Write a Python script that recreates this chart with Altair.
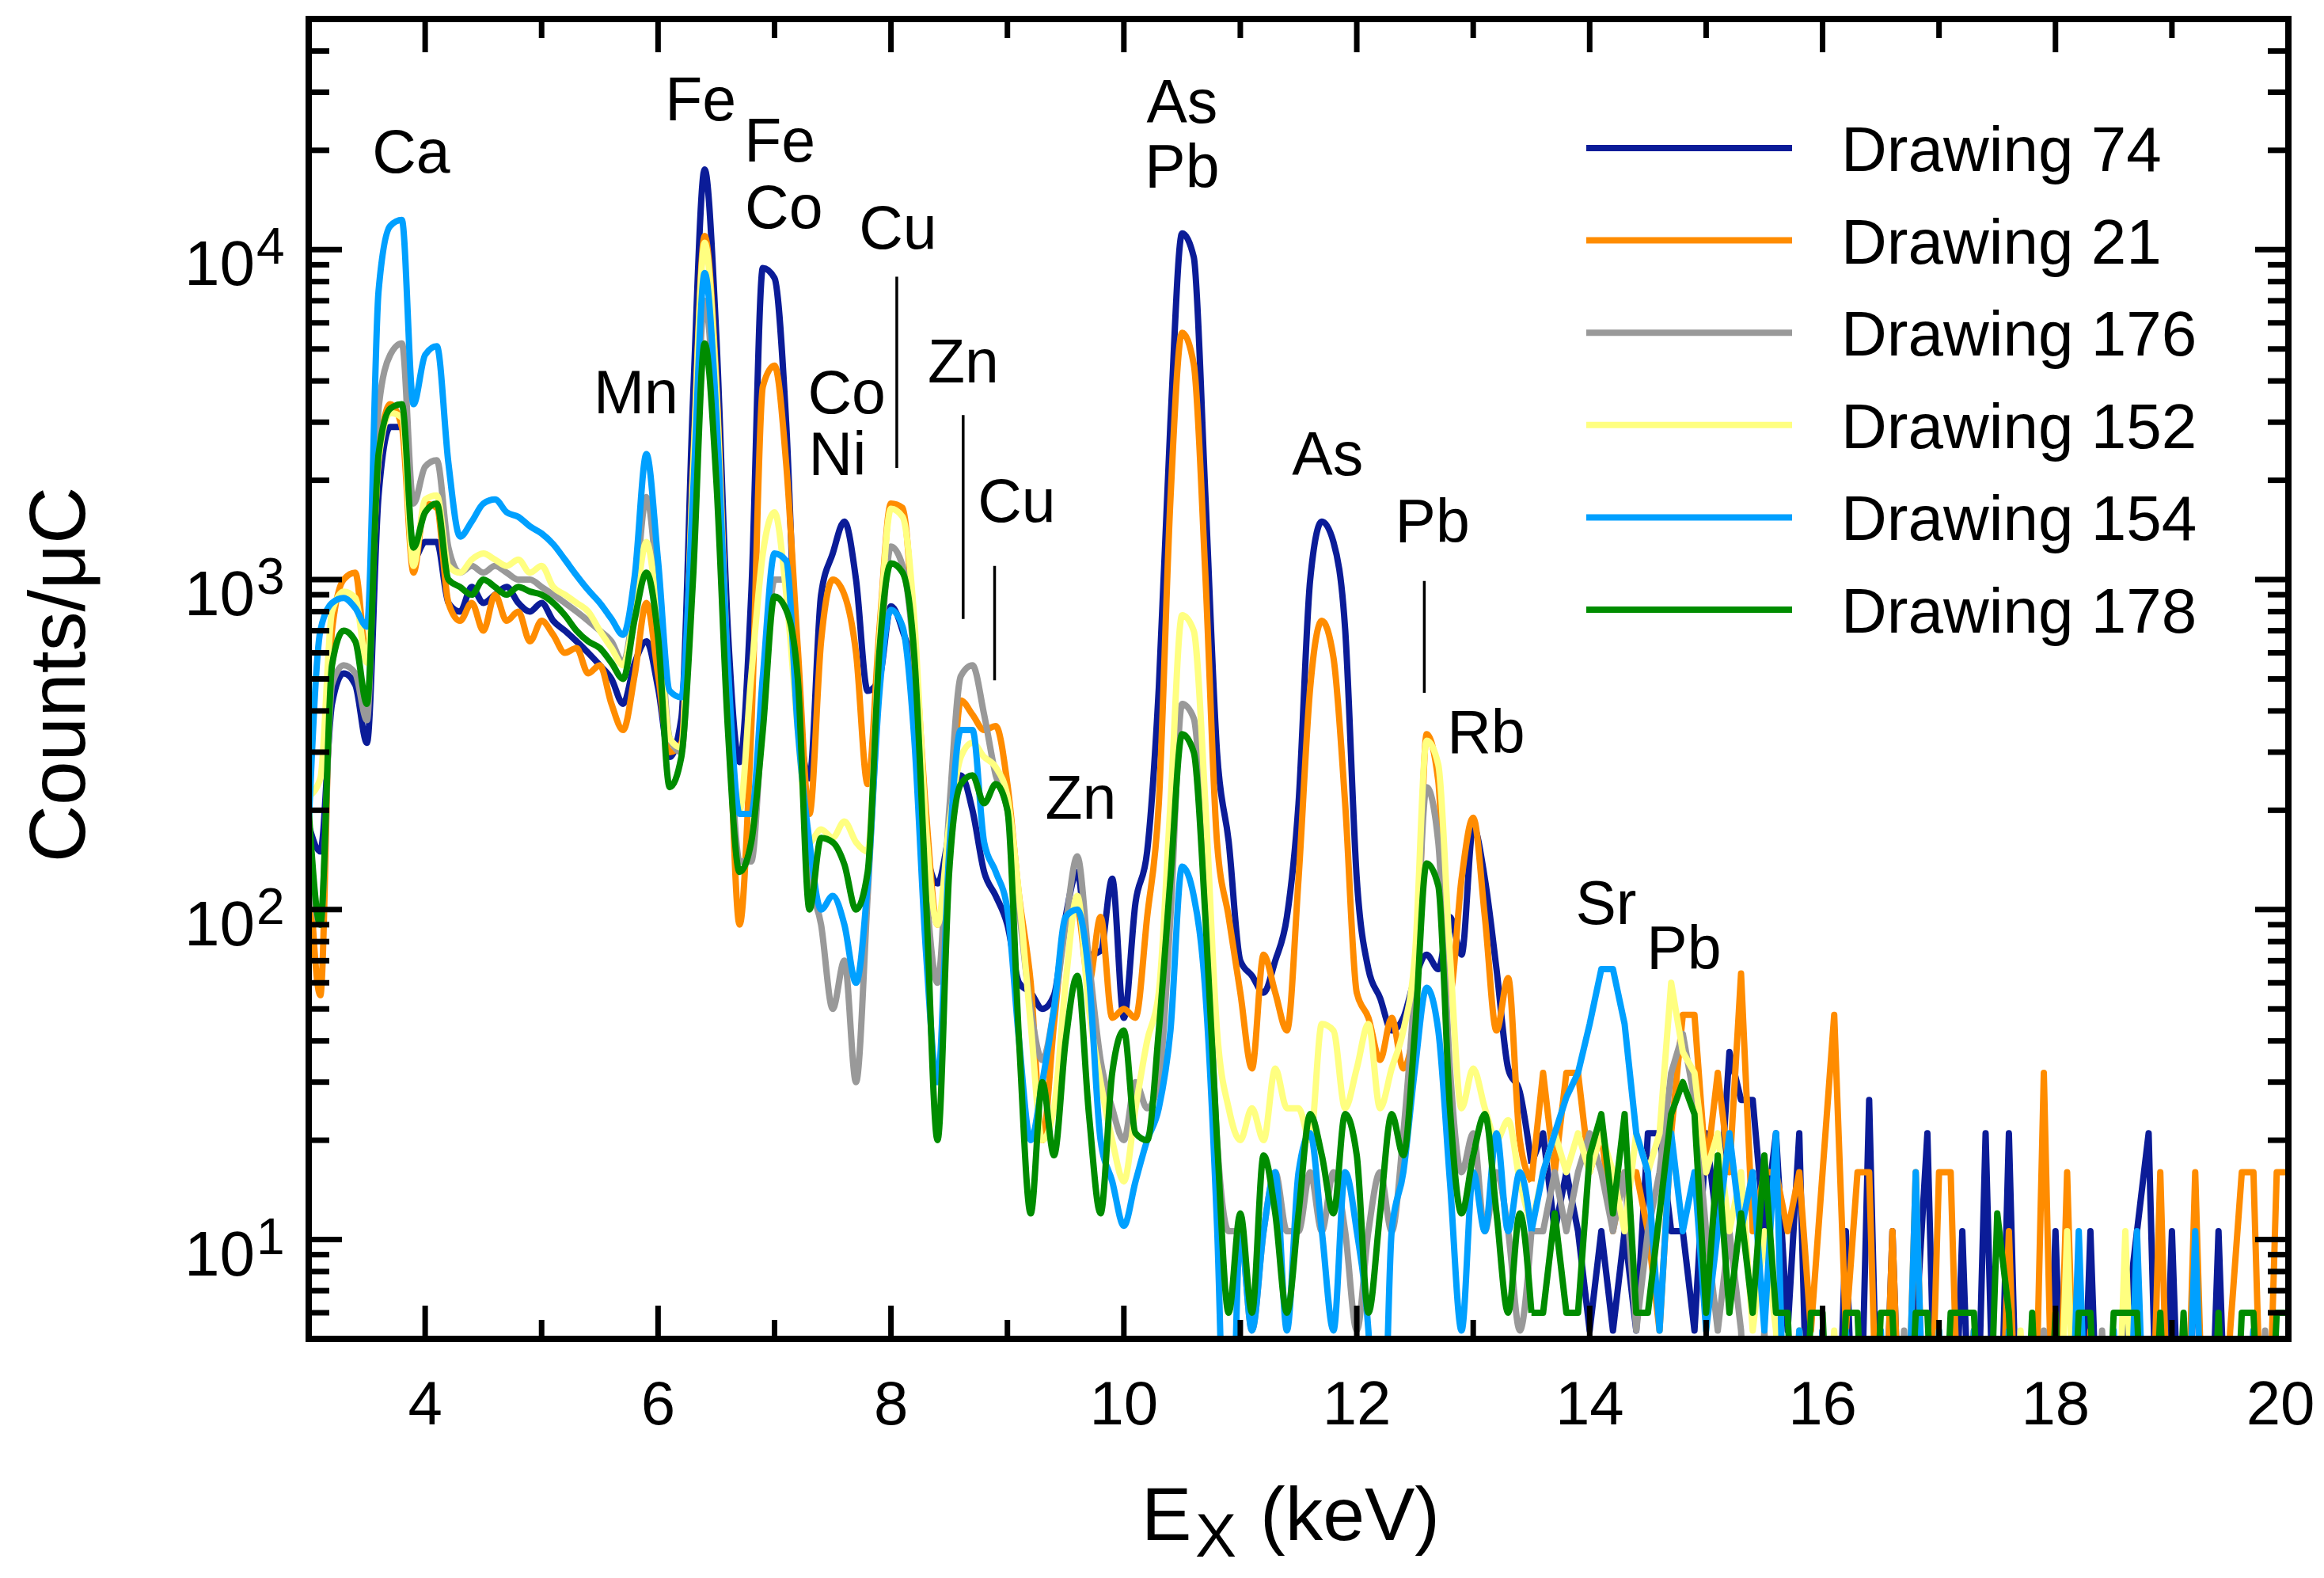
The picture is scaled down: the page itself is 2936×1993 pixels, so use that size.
import altair as alt
import pandas as pd

# counts/uC, one value every 0.1 keV from 3.0 to 20.0 keV
# (a value of 1 means an empty channel, drawn below the bottom of the frame)
d74 = [
    180, 150, 420, 520, 480, 320, 1800, 2900, 2900, 1150,      # 3.x
    1300, 1300, 850, 800, 950, 850, 900, 950, 850, 800,        # 4.x
    850, 750, 700, 650, 600, 550, 500, 420, 560, 650,          # 5.x
    470, 290, 380, 3500, 17500, 5500, 700, 280, 900, 8800,     # 6.x
    8200, 3000, 450, 250, 900, 1200, 1500, 1000, 460, 500,     # 7.x
    830, 700, 490, 155, 120, 170, 255, 200, 130, 110,          # 8.x
    90, 60, 56, 50, 55, 95, 130, 73, 75, 124,                  # 9.x
    47, 105, 150, 470, 3000, 11200, 9500, 1800, 300, 161,      # 10.x
    70, 63, 56, 70, 95, 210, 1000, 1500, 1300, 710,            # 11.x
    124, 66, 54, 43, 47, 62, 73, 66, 95, 73,                   # 12.x
    178, 124, 66, 33, 28, 17, 21, 10.6, 16, 10.6,              # 13.x
    5.3, 10.6, 5.3, 10.6, 5.3, 21, 21, 10.6, 10.6, 5.3,        # 14.x
    21, 10.6, 37, 26.5, 26.5, 10.6, 21, 5.3, 21, 1,            # 15.x
    5.3, 1, 10.6, 1, 26.5, 1, 10.6, 1, 5.3, 21,                # 16.x
    1, 1, 10.6, 1, 21, 1, 21, 1, 5.3, 1,                       # 17.x
    10.6, 1, 1, 10.6, 1, 1, 5.3, 10.6, 21, 1,                  # 18.x
    10.6, 1, 10.6, 1, 10.6, 1, 1, 5.3, 1, 1,                   # 19.x
    1,                                                         # 20.0
]
d21 = [
    150, 55, 700, 1000, 1050, 570, 2300, 3400, 2900, 1050,
    1700, 1650, 850, 750, 850, 700, 900, 750, 800, 650,
    750, 680, 600, 620, 520, 550, 420, 350, 515, 850,
    515, 300, 320, 2200, 11000, 4000, 500, 90, 350, 3850,
    4450, 2250, 620, 195, 650, 1000, 900, 600, 240, 700,
    1700, 1650, 670, 200, 90, 160, 430, 390, 350, 360,
    240, 110, 60, 20, 45, 90, 100, 60, 95, 47,
    50, 47, 95, 210, 1750, 5600, 4500, 1030, 160, 95,
    56, 33, 73, 56, 43, 124, 470, 750, 580, 210,
    56, 47, 35, 47, 33, 47, 340, 245, 56, 124,
    190, 95, 43, 62, 20, 15, 32, 16, 32, 32,
    16, 21, 10.6, 16, 16, 10.6, 5.3, 21, 48, 48,
    16, 32, 16, 64, 10.6, 16, 16, 10.6, 16, 5.3,
    16, 48, 5.3, 16, 16, 1, 10.6, 1, 16, 1,
    16, 16, 1, 5.3, 1, 1, 10.6, 1, 1, 32,
    1, 16, 1, 5.3, 1, 1, 1, 5.3, 1, 16,
    1, 1, 16, 1, 1, 5.3, 16, 16, 1, 16,
    16,
]
d176 = [
    150, 90, 480, 550, 520, 375, 3300, 4800, 5200, 1700,
    2200, 2300, 1250, 1050, 1100, 1050, 1100, 1050, 1000, 1000,
    950, 900, 850, 800, 750, 700, 650, 560, 880, 1780,
    900, 330, 300, 1400, 7000, 2600, 450, 140, 140, 400,
    1000, 1000, 380, 130, 90, 50, 70, 30, 110, 500,
    1260, 1100, 560, 120, 60, 200, 510, 550, 390, 255,
    200, 100, 50, 35, 50, 90, 145, 70, 35, 25,
    20, 30, 25, 30, 95, 420, 380, 124, 20, 10.6,
    10.6, 5.3, 10.6, 16, 10.6, 10.6, 16, 10.6, 16, 10.6,
    5.3, 10.6, 16, 10.6, 21, 60, 235, 160, 33, 16,
    21, 10.6, 16, 10.6, 5.3, 10.6, 10.6, 16, 10.6, 16,
    21, 16, 10.6, 16, 5.3, 10.6, 16, 32, 42, 26.5,
    10.6, 5.3, 10.6, 5.3, 1, 5.3, 1, 1, 5.3, 1,
    1, 1, 5.3, 1, 1, 1, 1, 5.3, 1, 1,
    1, 1, 1, 5.3, 1, 1, 1, 1, 1, 5.3,
    1, 1, 1, 1, 5.3, 1, 1, 1, 1, 1,
    1, 5.3, 1, 1, 1, 1, 1, 1, 5.3, 1,
    1,
]
d152 = [
    220, 250, 800, 920, 880, 560, 2300, 3200, 3100, 1100,
    1750, 1800, 1100, 1050, 1150, 1200, 1150, 1100, 1150, 1050,
    1100, 950, 900, 850, 800, 700, 620, 550, 810, 1300,
    760, 330, 310, 2100, 10500, 3800, 500, 200, 510, 1200,
    1600, 910, 350, 160, 175, 165, 185, 160, 150, 650,
    1640, 1550, 760, 180, 90, 180, 290, 320, 290, 270,
    220, 110, 45, 20, 25, 60, 110, 50, 30, 20,
    15, 25, 40, 56, 210, 780, 700, 210, 43, 25,
    20, 25, 20, 33, 25, 25, 20, 45, 43, 25,
    33, 45, 25, 33, 43, 73, 325, 275, 73, 25,
    33, 25, 20, 23, 15, 11, 16, 21, 16, 21,
    16, 21, 16, 10.6, 21, 16, 21, 60, 37, 32,
    16, 21, 10.6, 16, 5.3, 10.6, 5.3, 1, 5.3, 1,
    1, 5.3, 1, 1, 1, 5.3, 1, 1, 1, 1,
    5.3, 1, 1, 1, 1, 1, 1, 5.3, 1, 1,
    1, 10.6, 1, 1, 1, 1, 10.6, 1, 1, 1,
    1, 1, 1, 1, 5.3, 1, 1, 1, 1, 1,
    1,
]
d154 = [
    180, 700, 850, 880, 820, 720, 7500, 11800, 12300, 3400,
    4800, 5100, 2250, 1350, 1500, 1700, 1750, 1600, 1550, 1450,
    1380, 1280, 1150, 1030, 930, 850, 760, 680, 1030, 2400,
    1140, 460, 440, 1800, 8500, 3200, 550, 195, 195, 510,
    1200, 1140, 350, 160, 100, 110, 90, 60, 120, 450,
    810, 720, 330, 75, 30, 150, 350, 350, 160, 130,
    100, 40, 20, 30, 50, 95, 100, 63, 20, 15,
    11, 15, 20, 25, 43, 135, 110, 56, 11, 1,
    10.6, 5.3, 10.6, 16, 5.3, 16, 21, 10.6, 5.3, 16,
    10.6, 5.3, 1, 10.6, 16, 33, 58, 43, 15, 5.3,
    16, 10.6, 21, 10.6, 16, 10.6, 16, 21, 27, 32,
    45, 66, 66, 45, 21, 16, 5.3, 21, 10.6, 16,
    5.3, 10.6, 21, 10.6, 16, 5.3, 21, 1, 5.3, 1,
    5.3, 1, 5.3, 1, 1, 5.3, 1, 1, 16, 1,
    5.3, 1, 1, 5.3, 1, 1, 5.3, 1, 1, 1,
    5.3, 1, 10.6, 1, 1, 5.3, 1, 10.6, 1, 5.3,
    1, 1, 10.6, 1, 5.3, 1, 1, 5.3, 1, 1,
    1,
]
d178 = [
    200, 90, 550, 700, 650, 420, 2400, 3300, 3400, 1250,
    1600, 1700, 1000, 950, 900, 1000, 950, 900, 950, 920,
    900, 850, 780, 700, 650, 620, 560, 500, 760, 1050,
    670, 235, 290, 1000, 5200, 2000, 350, 130, 160, 350,
    890, 810, 500, 100, 165, 160, 137, 100, 130, 600,
    1120, 1050, 590, 110, 20, 130, 240, 255, 210, 240,
    200, 40, 12, 30, 18, 40, 63, 24, 12, 32,
    43, 21, 20, 43, 124, 340, 300, 95, 20, 6,
    12, 6, 18, 12, 6, 12, 24, 18, 12, 24,
    18, 6, 12, 24, 18, 43, 138, 118, 25, 12,
    18, 24, 12, 6, 12, 6, 6, 12, 6, 6,
    18, 24, 12, 24, 6, 6, 12, 24, 30, 24,
    6, 18, 6, 12, 6, 18, 6, 6, 1, 6,
    6, 1, 6, 6, 1, 6, 6, 1, 6, 6,
    1, 6, 6, 6, 1, 12, 6, 1, 6, 1,
    6, 1, 6, 6, 1, 6, 6, 6, 1, 6,
    1, 6, 1, 1, 6, 1, 6, 6, 1, 6,
    6,
]

names = ["Drawing 74", "Drawing 21", "Drawing 176", "Drawing 152", "Drawing 154", "Drawing 178"]
colors = ["#0b1c98", "#ff8c00", "#999999", "#ffff80", "#00a0ff", "#008c00"]
spectra = [d74, d21, d176, d152, d154, d178]

# element labels (energy in keV, counts at text baseline)
label_text = ["Ca", "Fe", "Fe", "Co", "Cu", "Mn", "Co", "Ni", "Zn", "Cu",
              "As", "Pb", "As", "Pb", "Rb", "Zn", "Sr", "Pb"]
label_e = [3.88, 6.365, 7.045, 7.08, 8.06, 5.81, 7.62, 7.54, 8.62, 9.08,
           10.5, 10.5, 11.75, 12.65, 13.11, 9.63, 14.14, 14.81]
label_v = [17100, 24700, 18500, 11600, 10080, 3200, 3200, 2070, 3960, 1500,
           24300, 15400, 2070, 1300, 299, 189, 90.6, 66]

# thin marker lines under some labels
lead_e = [8.05, 8.62, 8.89, 12.58]
lead_top = [8280, 3150, 1100, 990]
lead_bot = [2180, 760, 495, 454]

x_major = [4, 6, 8, 10, 12, 14, 16, 18]
x_minor = [5, 7, 9, 11, 13, 15, 17, 19]
x_labels = [4, 6, 8, 10, 12, 14, 16, 18]
x_last = [20]
y_major = [10, 100, 1000, 10000]
y_exp = ["1", "2", "3", "4"]
y_minor = [6, 7, 8, 9, 20, 30, 40, 50, 60, 70, 80, 90,
           200, 300, 400, 500, 600, 700, 800, 900,
           2000, 3000, 4000, 5000, 6000, 7000, 8000, 9000,
           20000, 30000, 40000]

for s in spectra:
    assert len(s) == 171, len(s)
energy = [round(3 + 0.1 * i, 1) for i in range(171)]

W, H = 2501, 1667
FONT = "Liberation Sans"
xs = alt.Scale(domain=[3, 20], nice=False, zero=False)
ys = alt.Scale(type="log", domain=[5, 50000], nice=False)
X = lambda f: alt.X(f, scale=xs, axis=None)
Y = lambda f: alt.Y(f, scale=ys, axis=None)

layers = []
for name, col, vals in zip(names, colors, spectra):
    df = pd.DataFrame({"energy": energy, "counts": vals})
    # peaks up to 13.5 keV drawn smooth, the sparse tail drawn straight
    layers.append(alt.Chart(df.iloc[:106]).mark_line(
        clip=True, strokeWidth=8, strokeJoin="round", color=col, interpolate="monotone"
    ).encode(x=X("energy:Q"), y=Y("counts:Q")))
    layers.append(alt.Chart(df.iloc[105:]).mark_line(
        clip=True, strokeWidth=8, strokeJoin="round", color=col
    ).encode(x=X("energy:Q"), y=Y("counts:Q")))


def xticks(vals, length):
    base = alt.Chart(pd.DataFrame({"v": vals})).mark_rule(color="black", strokeWidth=7)
    return [
        base.encode(x=X("v:Q"), y=alt.value(H), y2=alt.value(H - length)),
        base.encode(x=X("v:Q"), y=alt.value(0), y2=alt.value(length)),
    ]


def yticks(vals, length):
    base = alt.Chart(pd.DataFrame({"v": vals})).mark_rule(color="black", strokeWidth=7)
    return [
        base.encode(y=Y("v:Q"), x=alt.value(0), x2=alt.value(length)),
        base.encode(y=Y("v:Q"), x=alt.value(W), x2=alt.value(W - length)),
    ]


layers += xticks(x_major, 42) + xticks(x_minor, 24) + yticks(y_major, 42) + yticks(y_minor, 26)

# tick labels
xl = pd.DataFrame({"v": x_labels, "t": [str(v) for v in x_labels]})
layers.append(alt.Chart(xl).mark_text(font=FONT, fontSize=78, color="black", align="center",
                                      baseline="alphabetic").encode(
    x=X("v:Q"), y=alt.value(1775), text="t:N"))
xl2 = pd.DataFrame({"v": x_last, "t": [str(v) for v in x_last]})
layers.append(alt.Chart(xl2).mark_text(font=FONT, fontSize=78, color="black", align="center",
                                       baseline="alphabetic", dx=-10).encode(
    x=X("v:Q"), y=alt.value(1775), text="t:N"))
yl = pd.DataFrame({"v": y_major, "e": y_exp})
layers.append(alt.Chart(yl).mark_text(text="10", font=FONT, fontSize=80, color="black",
                                      align="right", baseline="alphabetic", dy=45).encode(
    y=Y("v:Q"), x=alt.value(-68)))
layers.append(alt.Chart(yl).mark_text(font=FONT, fontSize=64, color="black",
                                      align="left", baseline="alphabetic", dy=18).encode(
    y=Y("v:Q"), x=alt.value(-66), text="e:N"))

leads = pd.DataFrame({"e": lead_e, "v1": lead_top, "v2": lead_bot})
layers.append(alt.Chart(leads).mark_rule(color="black", strokeWidth=3.5).encode(
    x=X("e:Q"), y=Y("v1:Q"), y2="v2:Q"))

labels = pd.DataFrame({"t": label_text, "e": label_e, "v": label_v})
layers.append(alt.Chart(labels).mark_text(font=FONT, fontSize=77, color="black",
                                          align="center", baseline="alphabetic").encode(
    x=X("e:Q"), y=Y("v:Q"), text="t:N"))

# legend, drawn inside the frame
leg = pd.DataFrame({"name": names, "row": list(range(len(names)))})
leg_color = alt.Color("name:N", scale=alt.Scale(domain=names, range=colors), legend=None)
layers.append(alt.Chart(leg).mark_rule(strokeWidth=8).transform_calculate(
    py="163 + datum.row * 116.6").encode(
    x=alt.value(1614), x2=alt.value(1874), y=alt.Y("py:Q", scale=None), color=leg_color))
layers.append(alt.Chart(leg).mark_text(font=FONT, fontSize=80, color="black", align="left",
                                       baseline="alphabetic").transform_calculate(
    py="163 + datum.row * 116.6 + 29").encode(
    x=alt.value(1936), y=alt.Y("py:Q", scale=None), text="name:N"))

# axis titles
one = pd.DataFrame({"a": [0]})
layers.append(alt.Chart(one).mark_text(text="Counts/μC", font=FONT, fontSize=100, color="black",
                                       angle=270, align="center", baseline="alphabetic").encode(
    x=alt.value(-283), y=alt.value(828)))
layers.append(alt.Chart(one).mark_text(text="E", font=FONT, fontSize=95, color="black",
                                       align="left", baseline="alphabetic").encode(
    x=alt.value(1052), y=alt.value(1921)))
layers.append(alt.Chart(one).mark_text(text="X", font=FONT, fontSize=78, color="black",
                                       align="left", baseline="alphabetic").encode(
    x=alt.value(1120), y=alt.value(1942)))
layers.append(alt.Chart(one).mark_text(text="(keV)", font=FONT, fontSize=95, color="black",
                                       align="left", baseline="alphabetic").encode(
    x=alt.value(1202), y=alt.value(1921)))

# frame
layers.append(alt.Chart(one).mark_rect(filled=False, stroke="black", strokeWidth=8).encode(
    x=alt.value(0), x2=alt.value(W), y=alt.value(0), y2=alt.value(H)))

chart = alt.layer(*layers).properties(
    width=W, height=H,
    padding={"left": 382, "top": 16, "right": 36, "bottom": 292},
    autosize=alt.AutoSizeParams(type="none"),
).configure_view(stroke=None)

chart.save("out.html", embed_options={"renderer": "svg", "actions": False})
